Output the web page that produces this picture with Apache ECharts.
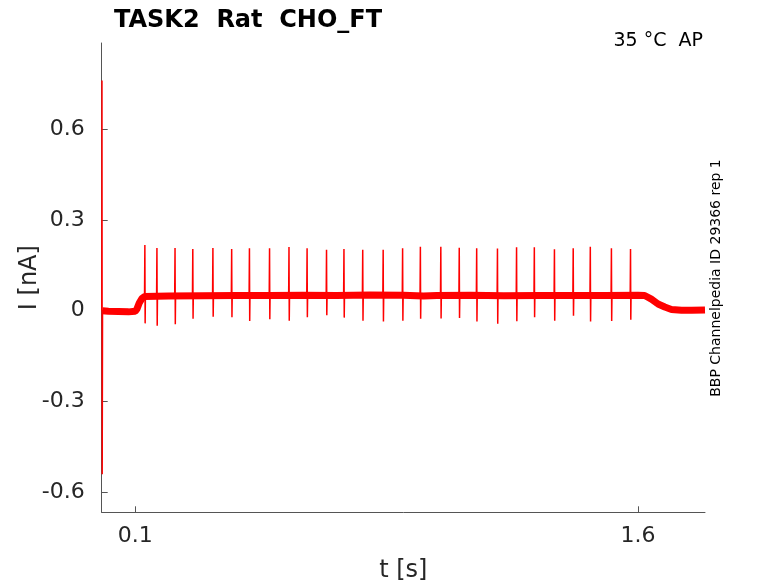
<!DOCTYPE html>
<html>
<head>
<meta charset="utf-8">
<script src="https://cdn.jsdelivr.net/npm/echarts@6/dist/echarts.min.js"></script>
<style>html,body{margin:0;padding:0;background:#fff}#c{width:778px;height:583px}</style>
</head>
<body>
<div id="c"></div>
<script>
// ---- data ----
const traceT = [0.002, 0.02, 0.05, 0.08, 0.1, 0.105, 0.112, 0.12, 0.128, 0.2, 0.3, 0.4, 0.5, 0.6, 0.7, 0.8, 0.9, 0.96, 1.0, 1.1, 1.2, 1.3, 1.4, 1.5, 1.6, 1.62, 1.64, 1.66, 1.68, 1.70, 1.73, 1.76, 1.8];
const traceI = [0.0, -0.002, -0.003, -0.004, -0.002, 0.005, 0.025, 0.04, 0.047, 0.048, 0.049, 0.050, 0.050, 0.051, 0.050, 0.052, 0.051, 0.048, 0.050, 0.051, 0.049, 0.050, 0.050, 0.050, 0.051, 0.050, 0.038, 0.022, 0.012, 0.004, 0.001, 0.001, 0.002];
const transientT = [0.0003, 0.0008, 0.0015, 0.0025];
const transientI = [0.0, 0.76, -0.54, 0.0];
const spikeT = [0.129, 0.165, 0.219, 0.272, 0.332, 0.388, 0.441, 0.501, 0.559, 0.613, 0.671, 0.723, 0.779, 0.840, 0.898, 0.951, 1.012, 1.067, 1.119, 1.181, 1.238, 1.291, 1.351, 1.407, 1.458, 1.521, 1.578];
const spikeTop = [0.217, 0.207, 0.207, 0.204, 0.207, 0.204, 0.206, 0.206, 0.210, 0.206, 0.201, 0.204, 0.201, 0.201, 0.206, 0.211, 0.211, 0.208, 0.206, 0.205, 0.209, 0.209, 0.203, 0.206, 0.211, 0.206, 0.204];
const spikeBottom = [-0.042, -0.050, -0.045, -0.027, -0.020, -0.022, -0.034, -0.028, -0.033, -0.022, -0.015, -0.023, -0.033, -0.036, -0.033, -0.027, -0.026, -0.024, -0.036, -0.043, -0.035, -0.022, -0.033, -0.017, -0.036, -0.034, -0.030];
const spikeBase = 0.05;
const xTicks = [0.1, 1.6];
const yTicks = [-0.6, -0.3, 0, 0.3, 0.6];
const xRange = [0, 1.8];
const yRange = [-0.666, 0.884];

// ---- build series data ----
const traceData = traceT.map((t, i) => [t, traceI[i]]);
const spikeData = [];
transientT.forEach((t, i) => spikeData.push([t, transientI[i]]));
spikeData.push([transientT[transientT.length - 1] + 0.0001, '-']);
spikeT.forEach((t, i) => {
  spikeData.push([t - 0.0012, spikeBase]);
  spikeData.push([t - 0.0002, spikeTop[i]]);
  spikeData.push([t + 0.0006, spikeBottom[i]]);
  spikeData.push([t + 0.0014, spikeBase]);
  spikeData.push([t + 0.0015, '-']);
});

const FONT = 'DejaVu Sans';
const axisColor = '#555555';
const textColor = '#262626';
const chart = echarts.init(document.getElementById('c'), null, {renderer: 'canvas'});
chart.setOption({
  animation: false,
  backgroundColor: '#ffffff',
  title: {
    text: 'TASK2  Rat  CHO_FT',
    left: 109, top: 4,
    textStyle: {fontFamily: FONT, fontSize: 24, fontWeight: 'bold', color: '#000'}
  },
  grid: {left: 101.7, right: 73, top: 43, bottom: 70.7, containLabel: false, outerBoundsMode: 'none'},
  xAxis: {
    type: 'value', min: xRange[0], max: xRange[1],
    name: 't [s]', nameLocation: 'middle', nameGap: 46, nameMoveOverlap: false,
    nameTextStyle: {fontFamily: FONT, fontSize: 24, color: textColor},
    axisLine: {show: true, onZero: false, lineStyle: {color: axisColor, width: 1}},
    axisTick: {show: true, inside: true, length: 6, customValues: xTicks, lineStyle: {color: axisColor}},
    axisLabel: {customValues: xTicks, fontFamily: FONT, fontSize: 22, color: textColor, margin: 13,
      formatter: v => String(v)},
    splitLine: {show: false}
  },
  yAxis: {
    type: 'value', min: yRange[0], max: yRange[1],
    name: 'I [nA]', nameLocation: 'middle', nameGap: 60, nameRotate: 90, nameMoveOverlap: false,
    nameTextStyle: {fontFamily: FONT, fontSize: 24, color: textColor},
    axisLine: {show: true, onZero: false, lineStyle: {color: axisColor, width: 1}},
    axisTick: {show: true, inside: true, length: 6, customValues: yTicks, lineStyle: {color: axisColor}},
    axisLabel: {customValues: yTicks, fontFamily: FONT, fontSize: 22, color: textColor, margin: 17,
      formatter: v => String(v)},
    splitLine: {show: false}
  },
  graphic: [
    {type: 'text', x: 703, y: 41, style: {text: '35 °C  AP', font: '19px "DejaVu Sans"', fill: '#000', textAlign: 'right', textVerticalAlign: 'middle'}},
    {type: 'text', x: 716, y: 278, rotation: Math.PI / 2, style: {text: 'BBP Channelpedia ID 29366 rep 1', font: '14px "DejaVu Sans"', fill: '#000', textAlign: 'center', textVerticalAlign: 'middle'}}
  ],
  series: [
    {type: 'line', data: traceData, showSymbol: false, symbol: 'none', clip: true,
     lineStyle: {color: '#ff0000', width: 7, join: 'bevel'}, z: 2},
    {type: 'line', data: spikeData, showSymbol: false, symbol: 'none', connectNulls: false, clip: true,
     lineStyle: {color: '#ff0000', width: 1.5}, z: 3}
  ]
});
</script>
</body>
</html>
